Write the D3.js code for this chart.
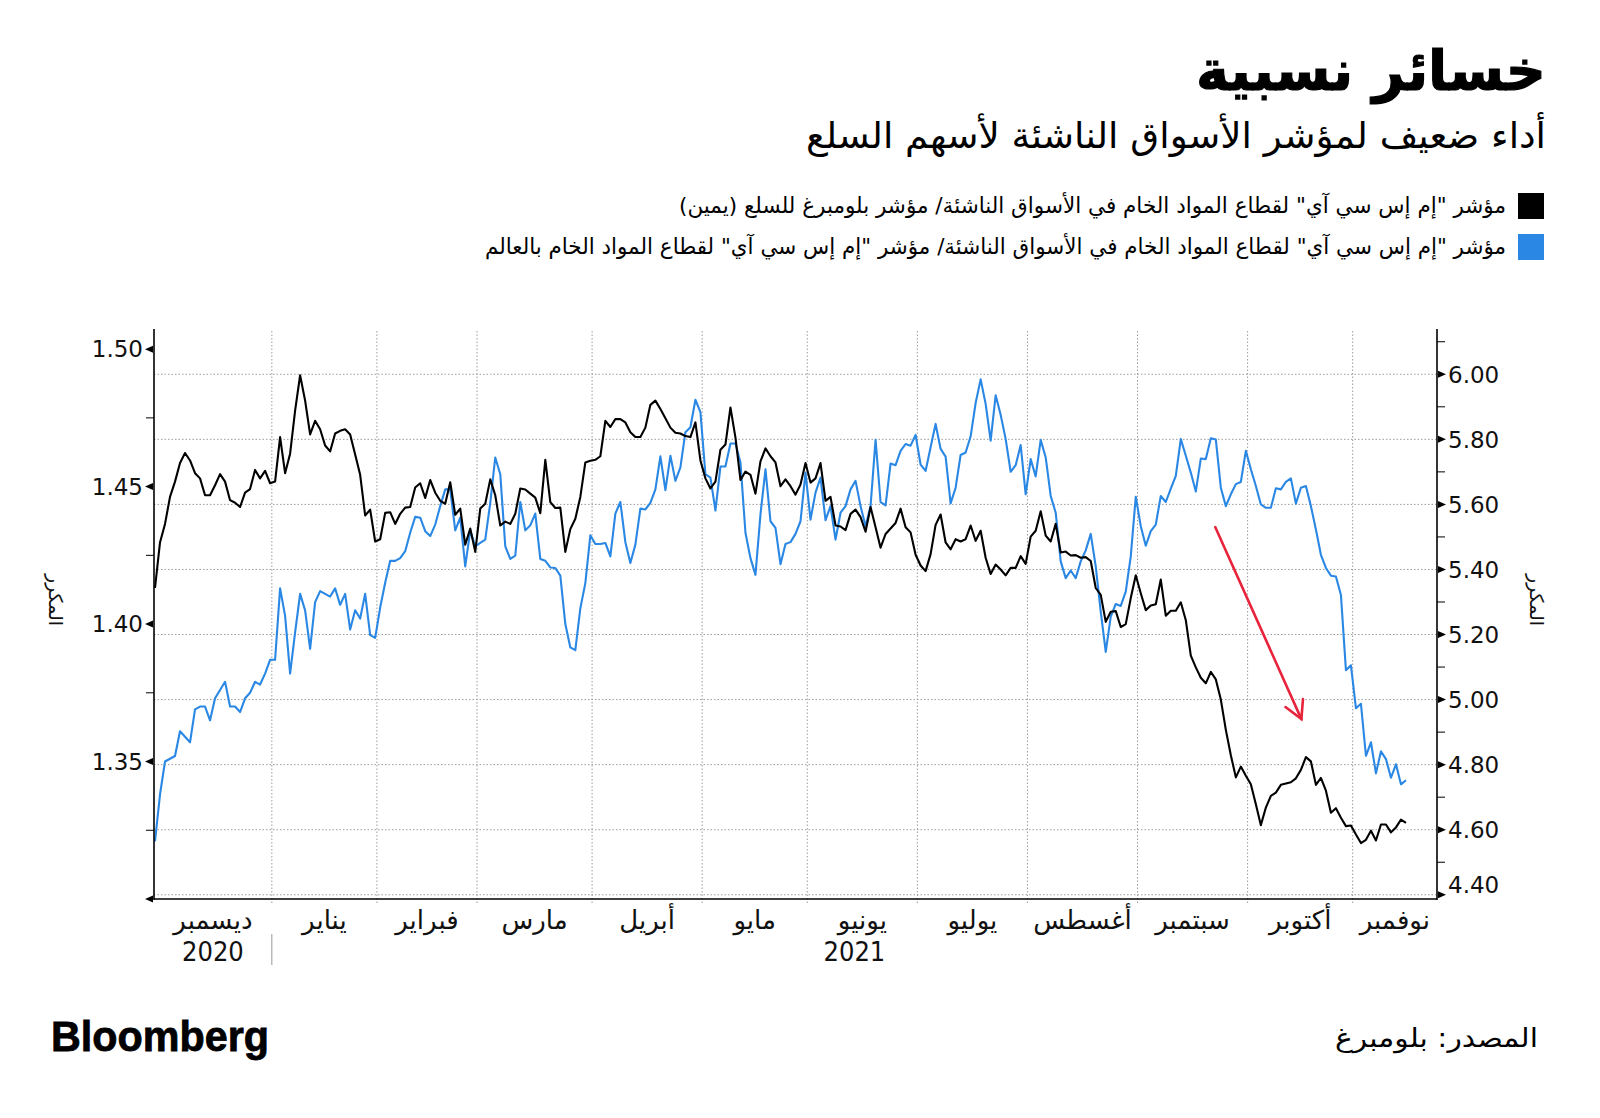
<!DOCTYPE html>
<html><head><meta charset="utf-8">
<script src="https://cdn.jsdelivr.net/npm/d3@7"></script>
<style>body{margin:0;background:#fff}svg{display:block}</style>
</head><body>
<svg id="chart" width="1600" height="1118"></svg>
<script>
// ---------- data ----------
const titleText = "خسائر نسبية";
const subtitleText = "أداء ضعيف لمؤشر الأسواق الناشئة لأسهم السلع";
const legendLabels = [
  "مؤشر \"إم إس سي آي\" لقطاع المواد الخام في الأسواق الناشئة/ مؤشر بلومبرغ للسلع (يمين)",
  "مؤشر \"إم إس سي آي\" لقطاع المواد الخام في الأسواق الناشئة/ مؤشر \"إم إس سي آي\" لقطاع المواد الخام بالعالم"
];
const seriesColors = ["#000000", "#2a88e4"];
const axisTitle = "المكرر";
const sourceText = "المصدر: بلومبرغ";
const brandText = "Bloomberg";
const monthLabels = ["ديسمبر","يناير","فبراير","مارس","أبريل","مايو","يونيو","يوليو","أغسطس","سبتمبر","أكتوبر","نوفمبر"];
const yearLabels = ["2020","2021"];
const leftTicks = [1.30, 1.35, 1.40, 1.45, 1.50];
const leftMinorTicks = [1.325, 1.375, 1.425, 1.475];
const rightTicks = [4.40, 4.60, 4.80, 5.00, 5.20, 5.40, 5.60, 5.80, 6.00];
const rightMinorTicks = [4.50, 4.70, 4.90, 5.10, 5.30, 5.50, 5.70, 5.90, 6.10];
const firstTradingDay = "2020-12-01";   // one value per weekday from here

// EM materials / Bloomberg Commodity index (right axis)
const blackValues = [
5.343,5.483,5.540,5.623,5.670,5.727,5.758,5.735,5.696,5.680,
5.628,5.628,5.659,5.693,5.670,5.613,5.605,5.592,5.636,5.647,
5.706,5.680,5.703,5.665,5.670,5.807,5.696,5.756,5.888,5.997,
5.919,5.815,5.857,5.831,5.781,5.763,5.818,5.826,5.831,5.815,
5.753,5.691,5.566,5.584,5.486,5.493,5.574,5.576,5.540,5.571,
5.590,5.592,5.652,5.665,5.620,5.675,5.636,5.611,5.602,5.668,
5.568,5.587,5.476,5.526,5.454,5.587,5.602,5.677,5.628,5.535,
5.547,5.540,5.571,5.649,5.646,5.633,5.621,5.573,5.737,5.607,
5.589,5.590,5.454,5.524,5.556,5.623,5.729,5.734,5.737,5.748,
5.857,5.838,5.862,5.862,5.852,5.822,5.807,5.807,5.836,5.906,
5.919,5.893,5.865,5.836,5.820,5.818,5.810,5.807,5.852,5.735,
5.680,5.649,5.670,5.768,5.784,5.898,5.805,5.675,5.701,5.691,
5.633,5.732,5.772,5.748,5.729,5.656,5.677,5.656,5.630,5.661,
5.727,5.667,5.680,5.727,5.611,5.623,5.535,5.532,5.521,5.571,
5.584,5.561,5.516,5.592,5.530,5.467,5.509,5.526,5.543,5.587,
5.530,5.514,5.445,5.412,5.395,5.447,5.537,5.569,5.483,5.462,
5.493,5.486,5.493,5.535,5.488,5.519,5.436,5.386,5.415,5.400,
5.382,5.405,5.405,5.441,5.417,5.501,5.519,5.579,5.504,5.486,
5.540,5.452,5.455,5.443,5.444,5.436,5.438,5.426,5.343,5.322,
5.239,5.270,5.272,5.223,5.232,5.312,5.382,5.327,5.275,5.289,
5.293,5.369,5.258,5.273,5.273,5.299,5.244,5.135,5.099,5.067,
5.050,5.085,5.062,5.000,4.907,4.829,4.761,4.794,4.766,4.740,
4.678,4.614,4.668,4.704,4.714,4.738,4.742,4.746,4.758,4.784,
4.823,4.810,4.738,4.759,4.720,4.652,4.666,4.637,4.611,4.613,
4.585,4.559,4.569,4.597,4.567,4.616,4.616,4.592,4.607,4.631,4.621
];
// EM materials / World materials (left axis)
const blueValues = [
1.321,1.338,1.350,1.351,1.352,1.361,1.359,1.357,1.369,1.370,
1.370,1.365,1.373,1.376,1.379,1.370,1.370,1.368,1.373,1.375,
1.379,1.378,1.382,1.387,1.387,1.413,1.403,1.382,1.397,1.411,
1.405,1.391,1.408,1.412,1.411,1.410,1.413,1.407,1.411,1.398,
1.405,1.402,1.411,1.396,1.395,1.406,1.415,1.423,1.423,1.424,
1.4265,1.4332,1.439,1.4387,1.4338,1.432,1.4362,1.4429,1.449,1.449,
1.4341,1.4387,1.421,1.434,1.4283,1.4295,1.4307,1.4441,1.4606,1.4545,
1.4283,1.4237,1.4249,1.4444,1.4341,1.4359,1.4402,1.4237,1.423,1.4206,
1.4204,1.4176,1.400,1.3915,1.3905,1.4057,1.4149,1.4323,1.4291,1.4291,
1.4295,1.4246,1.4402,1.4444,1.4298,1.4222,1.4289,1.442,1.4417,1.4441,
1.449,1.461,1.4487,1.4612,1.4521,1.457,1.4698,1.4716,1.4816,1.4771,
1.4545,1.4533,1.4413,1.4573,1.4573,1.4657,1.4657,1.4588,1.4332,1.424,
1.4179,1.4399,1.4563,1.4374,1.435,1.4218,1.4291,1.4298,1.4328,1.4374,
1.4551,1.438,1.4478,1.4533,1.4378,1.4429,1.4307,1.4405,1.4429,1.449,
1.4521,1.4429,1.4356,1.4429,1.467,1.4444,1.4432,1.4584,1.4578,1.463,
1.4655,1.4649,1.4688,1.458,1.4557,1.4643,1.4728,1.4637,1.4609,1.4439,
1.4496,1.4615,1.4624,1.4683,1.4804,1.489,1.4801,1.4667,1.4832,1.4761,
1.4673,1.4554,1.4578,1.4651,1.4472,1.46,1.4537,1.467,1.4606,1.4466,
1.4405,1.4228,1.4167,1.4195,1.4167,1.4228,1.4268,1.4328,1.421,1.4045,
1.3899,1.4027,1.4073,1.4066,1.4118,1.4246,1.4463,1.4356,1.4285,1.4338,
1.4362,1.4466,1.4444,1.4493,1.4539,1.4673,1.4612,1.4551,1.4482,1.4602,
1.46,1.4676,1.4671,1.4496,1.4429,1.4472,1.4509,1.4517,1.463,1.4563,
1.4502,1.4435,1.4423,1.4423,1.4494,1.449,1.4517,1.453,1.4438,1.4496,
1.4502,1.4429,1.4344,1.4252,1.4204,1.4176,1.4173,1.4106,1.3832,1.385,
1.3694,1.371,1.3521,1.357,1.3457,1.3537,1.3509,1.3441,1.349,1.3417,1.3432
];
// red annotation arrow (date-index, right-axis value)
const arrowFrom = [211.9, 5.53];
const arrowTo = [229.1, 4.94];

// ---------- layout ----------
const plot = {left: 154, right: 1437, top: 331, bottom: 899};
const arabicFont = "'DejaVu Sans', sans-serif";
const svg = d3.select("#chart");

// trading days (weekdays)
const allDays = d3.timeDay.range(d3.timeParse("%Y-%m-%d")(firstTradingDay), new Date(2021, 11, 31))
  .filter(d => d.getDay() !== 0 && d.getDay() !== 6);
const monthStarts = d3.timeMonth.range(new Date(2020, 11, 1), new Date(2021, 11, 1));
const monthIdx = monthStarts.map(m => allDays.findIndex(d => d >= m));

const x = d3.scaleLinear().domain([-0.2, 256.2]).range([plot.left, plot.right]);
const yL = d3.scaleLinear().domain([1.30, 1.5066]).range([plot.bottom, plot.top]);
const yR = d3.scaleLinear().domain([4.387, 6.133]).range([plot.bottom, plot.top]);
const gridX = i => x(i + 0.35);

// horizontal grid (right axis majors)
svg.append("g").selectAll("line").data(rightTicks).join("line")
  .attr("x1", plot.left).attr("x2", plot.right)
  .attr("y1", d => yR(d)).attr("y2", d => yR(d))
  .attr("stroke", "#9c9c9c").attr("stroke-width", 1).attr("stroke-dasharray", "1.5,2");
// vertical grid at month starts
svg.append("g").selectAll("line").data(monthIdx.slice(1)).join("line")
  .attr("x1", d => gridX(d)).attr("x2", d => gridX(d))
  .attr("y1", plot.top).attr("y2", plot.bottom + 6)
  .attr("stroke", "#9c9c9c").attr("stroke-width", 1).attr("stroke-dasharray", "1.5,2");

// lines
const lineBlue = d3.line().x((d, i) => x(i)).y(d => yL(d));
const lineBlack = d3.line().x((d, i) => x(i)).y(d => yR(d));
svg.append("path").datum(blueValues).attr("d", lineBlue)
  .attr("fill", "none").attr("stroke", seriesColors[1]).attr("stroke-width", 2.1).attr("stroke-linejoin", "round");
svg.append("path").datum(blackValues).attr("d", lineBlack)
  .attr("fill", "none").attr("stroke", seriesColors[0]).attr("stroke-width", 2.1).attr("stroke-linejoin", "round");

// axes lines
const ax = svg.append("g").attr("stroke", "#000").attr("stroke-width", 1.6);
ax.append("line").attr("x1", plot.left).attr("x2", plot.left).attr("y1", plot.top - 2).attr("y2", plot.bottom + 1);
ax.append("line").attr("x1", plot.right).attr("x2", plot.right).attr("y1", plot.top - 2).attr("y2", plot.bottom + 1);
ax.append("line").attr("x1", plot.left).attr("x2", plot.right).attr("y1", plot.bottom).attr("y2", plot.bottom);

// left axis ticks
svg.append("g").selectAll("path").data(leftTicks).join("path")
  .attr("d", d => `M${plot.left - 1},${yL(d) - 3.5} L${plot.left - 1},${yL(d) + 3.5} L${plot.left - 9},${yL(d)} Z`)
  .attr("fill", "#000");
svg.append("g").selectAll("line").data(leftMinorTicks).join("line")
  .attr("x1", plot.left - 8).attr("x2", plot.left).attr("y1", d => yL(d)).attr("y2", d => yL(d))
  .attr("stroke", "#000").attr("stroke-width", 1);
svg.append("g").selectAll("text").data(leftTicks.filter(d => d > 1.30)).join("text")
  .attr("x", plot.left - 11).attr("y", d => yL(d)).attr("dy", "0.36em")
  .attr("text-anchor", "end").attr("font-family", "'DejaVu Sans', sans-serif").attr("font-size", 23).attr("fill", "#111")
  .text(d => d.toFixed(2));

// right axis ticks
svg.append("g").selectAll("path").data(rightTicks).join("path")
  .attr("d", d => `M${plot.right + 1},${yR(d) - 3.5} L${plot.right + 1},${yR(d) + 3.5} L${plot.right + 9},${yR(d)} Z`)
  .attr("fill", "#000");
svg.append("g").selectAll("line").data(rightMinorTicks).join("line")
  .attr("x1", plot.right).attr("x2", plot.right + 8).attr("y1", d => yR(d)).attr("y2", d => yR(d))
  .attr("stroke", "#000").attr("stroke-width", 1);
svg.append("g").selectAll("text").data(rightTicks).join("text")
  .attr("x", plot.right + 11).attr("y", (d, i) => yR(d) - (i === 0 ? 10 : 0)).attr("dy", "0.36em")
  .attr("text-anchor", "start").attr("font-family", "'DejaVu Sans', sans-serif").attr("font-size", 23).attr("fill", "#111")
  .text(d => d.toFixed(2));

// axis titles
[[56, 600], [1537, 600]].forEach(([tx, ty]) => {
  svg.append("text").attr("transform", `translate(${tx},${ty}) rotate(90)`)
    .attr("text-anchor", "middle").attr("dy", "0.35em").attr("direction", "rtl")
    .attr("font-family", arabicFont).attr("font-size", 19).attr("fill", "#111").text(axisTitle);
});

// x-axis month labels
const bounds = [plot.left].concat(monthIdx.slice(1).map(gridX)).concat([plot.right]);
svg.append("g").selectAll("text").data(monthLabels).join("text")
  .attr("x", (d, i) => (bounds[i] + bounds[i + 1]) / 2).attr("y", 929)
  .attr("text-anchor", "middle").attr("direction", "rtl")
  .attr("font-family", arabicFont).attr("font-size", 26).attr("fill", "#111").text(d => d);
// year labels
const yearCenters = [(bounds[0] + bounds[1]) / 2, (bounds[1] + plot.right) / 2];
svg.append("g").selectAll("text").data(yearLabels).join("text")
  .attr("x", (d, i) => yearCenters[i]).attr("y", 961)
  .attr("text-anchor", "middle")
  .attr("font-family", "'DejaVu Sans Condensed', 'DejaVu Sans', sans-serif").attr("font-size", 27).attr("fill", "#111").text(d => d);
svg.append("line").attr("x1", bounds[1]).attr("x2", bounds[1]).attr("y1", 934).attr("y2", 965)
  .attr("stroke", "#999").attr("stroke-width", 1);

// red arrow
const a0 = [x(arrowFrom[0]), yR(arrowFrom[1])], a1 = [x(arrowTo[0]), yR(arrowTo[1])];
const ang = Math.atan2(a0[1] - a1[1], a0[0] - a1[0]);
const wing = 20, spread = 0.5;
const arrowG = svg.append("g").attr("stroke", "#e8243c").attr("stroke-width", 2.6).attr("fill", "none").attr("stroke-linecap", "round");
arrowG.append("line").attr("x1", a0[0]).attr("y1", a0[1]).attr("x2", a1[0]).attr("y2", a1[1]);
arrowG.append("path").attr("stroke-linejoin", "miter")
  .attr("d", `M${a1[0] + wing * Math.cos(ang + spread)},${a1[1] + wing * Math.sin(ang + spread)} L${a1[0]},${a1[1]} L${a1[0] + wing * Math.cos(ang - spread)},${a1[1] + wing * Math.sin(ang - spread)}`);

// ---------- titles / legend / footer ----------
function fitText(sel, width) {
  sel.attr("textLength", width).attr("lengthAdjust", "spacingAndGlyphs");
  return sel;
}
// title: scale the font so its natural width matches the reference
const titleSel = svg.append("text").attr("x", 1546).attr("y", 90).attr("direction", "rtl").attr("text-anchor", "start")
  .attr("font-family", arabicFont).attr("font-weight", "bold").attr("font-size", 64).attr("fill", "#000")
  .attr("stroke", "#000").attr("stroke-width", 1.2).text(titleText);
const tLen = titleSel.node().getComputedTextLength();
if (tLen > 350) titleSel.attr("font-size", 64 * 350 / tLen);

fitText(svg.append("text").attr("x", 1546).attr("y", 148).attr("direction", "rtl").attr("text-anchor", "start")
  .attr("font-family", arabicFont).attr("font-size", 36).attr("fill", "#000").text(subtitleText), 740);

const legY = [206, 247];
const legW = [827, 1021];
legendLabels.forEach((t, i) => {
  svg.append("rect").attr("x", 1518).attr("y", legY[i] - 13).attr("width", 26).attr("height", 26).attr("fill", seriesColors[i]);
  fitText(svg.append("text").attr("x", 1506).attr("y", legY[i] + 7).attr("direction", "rtl").attr("text-anchor", "start")
    .attr("font-family", arabicFont).attr("font-size", 22).attr("fill", "#000").text(t), legW[i]);
});

fitText(svg.append("text").attr("x", 51).attr("y", 1051)
  .attr("font-family", "'Liberation Sans', Arial, sans-serif").attr("font-weight", "bold").attr("font-size", 42)
  .attr("stroke", "#000").attr("stroke-width", 0.8).attr("fill", "#000").text(brandText), 218);
fitText(svg.append("text").attr("x", 1538).attr("y", 1047).attr("direction", "rtl").attr("text-anchor", "start")
  .attr("font-family", arabicFont).attr("font-size", 26).attr("fill", "#000").text(sourceText), 203);
</script>
</body></html>
